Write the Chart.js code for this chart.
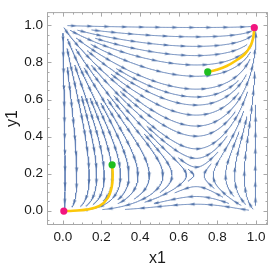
<!DOCTYPE html>
<html>
<head>
<meta charset="utf-8">
<script src="https://cdn.jsdelivr.net/npm/chart.js@4.4.1/dist/chart.umd.min.js"></script>
<style>
  html, body { margin: 0; padding: 0; background: #fff; }
  #wrap { width: 273px; height: 270px; }
</style>
</head>
<body>
<div id="wrap"><canvas id="chart"></canvas></div>
<script>
// axis ranges (the unit square plus Mathematica's padding)
const xRange = [-0.082, 1.062];
const yRange = [-0.077, 1.072];
const majorTicks = [0, 0.2, 0.4, 0.6, 0.8, 1.0];
const tickLabels = ['0.0', '0.2', '0.4', '0.6', '0.8', '1.0'];
const minorTicks = [-0.05, 0.05, 0.1, 0.15, 0.25, 0.3, 0.35, 0.45, 0.5, 0.55,
                    0.65, 0.7, 0.75, 0.85, 0.9, 0.95, 1.05];

// interior saddle of the field  x' = x(1-x)(y-ys),  y' = y(1-y)(x-xs)
const saddle = [0.69, 0.19];
const restPoints = [[0, 0], [1, 0], [0, 1], [1, 1], saddle];

// highlighted trajectories
const pathLow = [[0.255, 0.248], [0.258, 0.196], [0.253, 0.128], [0.232, 0.068],
                 [0.19, 0.026], [0.121, 0.006], [0.053, 0.0], [0.005, -0.002]];
const pathHigh = [[0.750, 0.749], [0.796, 0.761], [0.848, 0.781], [0.899, 0.812],
                  [0.942, 0.846], [0.971, 0.889], [0.985, 0.932], [0.991, 0.988]];
const startPts = [[0.255, 0.248], [0.750, 0.749]];
const endPts = [[0.005, -0.002], [0.991, 0.988]];

function velocity(x, y) {
    return [x * (1 - x) * (y - saddle[1]), y * (1 - y) * (x - saddle[0])];
}

// evenly spaced streamlines (Jobard-Lefer style)
const D_SEP = 0.038, D_TEST = 0.019, STEP = 0.004;
const grid = new Map();

function addPoint(p) {
    const k = Math.floor(p[0] / D_SEP) * 1000 + Math.floor(p[1] / D_SEP);
    if (!grid.has(k)) grid.set(k, []);
    grid.get(k).push(p);
}

function isClear(p, d) {
    const i = Math.floor(p[0] / D_SEP), j = Math.floor(p[1] / D_SEP);
    for (let a = i - 1; a <= i + 1; a++) {
        for (let b = j - 1; b <= j + 1; b++) {
            const c = grid.get(a * 1000 + b);
            if (!c) continue;
            for (const q of c) {
                if ((q[0] - p[0]) ** 2 + (q[1] - p[1]) ** 2 < d * d) return false;
            }
        }
    }
    return true;
}

function nearRest(p) {
    return restPoints.some(r => Math.hypot(r[0] - p[0], r[1] - p[1]) < 0.012);
}

function unitVel(p) {
    const v = velocity(p[0], p[1]);
    const m = Math.hypot(v[0], v[1]);
    return m < 1e-8 ? null : [v[0] / m, v[1] / m];
}

function inside(p) {
    return p[0] >= 0 && p[0] <= 1 && p[1] >= 0 && p[1] <= 1;
}

function trace(seed, dir) {
    const out = [];
    let p = seed;
    for (let n = 0; n < 1500; n++) {
        const v1 = unitVel(p);
        if (!v1) break;
        const mid = [p[0] + dir * STEP / 2 * v1[0], p[1] + dir * STEP / 2 * v1[1]];
        const v2 = unitVel(mid);
        if (!v2) break;
        const q = [p[0] + dir * STEP * v2[0], p[1] + dir * STEP * v2[1]];
        if (!inside(q) || nearRest(q) || !isClear(q, D_TEST)) break;
        out.push(q);
        p = q;
    }
    return out;
}

function makeLine(seed) {
    if (!inside(seed) || nearRest(seed) || !isClear(seed, D_SEP * 0.99)) return null;
    const back = trace(seed, -1).reverse();
    const fwd = trace(seed, 1);
    const pts = back.concat([seed], fwd);
    if (pts.length * STEP < 0.05) return null;
    pts.forEach(addPoint);
    return pts;
}

const lines = [];
const queue = [];
function tryAdd(seed) {
    const l = makeLine(seed);
    if (l) { lines.push(l); queue.push(l); }
}
function drain() {
    while (queue.length) {
        const l = queue.shift();
        for (let k = 0; k < l.length; k += 3) {
            const p = l[k], q = l[Math.min(k + 1, l.length - 1)], r = l[Math.max(k - 1, 0)];
            let tx = q[0] - r[0], ty = q[1] - r[1];
            const m = Math.hypot(tx, ty);
            if (!m) continue;
            tx /= m; ty /= m;
            tryAdd([p[0] - ty * D_SEP, p[1] + tx * D_SEP]);
            tryAdd([p[0] + ty * D_SEP, p[1] - tx * D_SEP]);
        }
    }
}
tryAdd([0.45, 0.55]);
drain();
for (let gx = 0.01; gx < 1; gx += D_SEP / 2) {
    for (let gy = 0.01; gy < 1; gy += D_SEP / 2) {
        tryAdd([gx, gy]);
        drain();
    }
}

// arrowheads along each line
const ARROW_GAP = 0.088, ARROW_FIRST = 0.03;
const arrowPts = [], arrowRot = [];
lines.forEach(l => {
    const len = (l.length - 1) * STEP;
    for (let s = ARROW_FIRST; s < len - 0.01; s += ARROW_GAP) {
        const p = l[Math.round(s / STEP)];
        const v = velocity(p[0], p[1]);
        arrowPts.push({ x: p[0], y: p[1] });
        arrowRot.push(Math.atan2(v[0], v[1]) * 180 / Math.PI);
    }
});

const arrowImg = document.createElement('canvas');
arrowImg.width = 8; arrowImg.height = 8;
const g = arrowImg.getContext('2d');
g.fillStyle = '#5575aa';
g.beginPath();
g.moveTo(4, 1.2); g.lineTo(5.5, 6.6); g.lineTo(2.5, 6.6);
g.closePath();
g.fill();

const toXY = arr => arr.map(p => ({ x: p[0], y: p[1] }));

const datasets = [];
datasets.push({ data: toXY(startPts), backgroundColor: '#1fbf1f', pointRadius: 3.6, borderWidth: 0, showLine: false, order: 0 });
datasets.push({ data: toXY(endPts), backgroundColor: '#f2157f', pointRadius: 3.6, borderWidth: 0, showLine: false, order: 0 });
[pathLow, pathHigh].forEach(path => {
    datasets.push({ data: toXY(path), showLine: true, borderColor: '#fcc80a', borderWidth: 2.6,
                    pointRadius: 0, tension: 0.4, order: 1 });
});
datasets.push({ data: arrowPts, showLine: false, pointStyle: arrowImg, pointRotation: arrowRot,
                pointRadius: 3, order: 2 });
lines.forEach(l => {
    datasets.push({ data: toXY(l), showLine: true, borderColor: '#6584b8', borderWidth: 1,
                    pointRadius: 0, tension: 0, order: 3 });
});

const framePlugin = {
    id: 'frame',
    afterDatasetsDraw(chart) {
        const { ctx, chartArea: a, scales: { x, y } } = chart;
        ctx.save();
        ctx.strokeStyle = '#a8a8a8';
        ctx.lineWidth = 1;
        ctx.strokeRect(a.left + 0.5, a.top + 0.5, a.right - a.left - 1, a.bottom - a.top - 1);
        ctx.beginPath();
        const tick = (vals, len) => vals.forEach(v => {
            const px = Math.round(x.getPixelForValue(v)) + 0.5;
            const py = Math.round(y.getPixelForValue(v)) + 0.5;
            ctx.moveTo(px, a.bottom); ctx.lineTo(px, a.bottom - len);
            ctx.moveTo(px, a.top); ctx.lineTo(px, a.top + len);
            ctx.moveTo(a.left, py); ctx.lineTo(a.left + len, py);
            ctx.moveTo(a.right, py); ctx.lineTo(a.right - len, py);
        });
        tick(majorTicks, 4.5);
        tick(minorTicks, 2.5);
        ctx.stroke();
        ctx.restore();
    }
};

const font = { family: "'Liberation Sans', Arial, sans-serif", size: 13.5 };
const titleFont = { family: "'Liberation Sans', Arial, sans-serif", size: 16 };

new Chart(document.getElementById('chart'), {
    type: 'scatter',
    data: { datasets },
    options: {
        responsive: true,
        maintainAspectRatio: false,
        animation: false,
        events: [],
        layout: { padding: { left: 0, right: 3, top: 1, bottom: 0 } },
        plugins: { legend: { display: false }, tooltip: { enabled: false } },
        scales: {
            x: {
                type: 'linear', min: xRange[0], max: xRange[1],
                afterBuildTicks: s => { s.ticks = majorTicks.map(v => ({ value: v })); },
                afterFit: s => { s.height = 45; },
                ticks: { callback: (v, i) => tickLabels[i], padding: 4, font, color: '#1a1a1a',
                         maxRotation: 0, autoSkip: false },
                grid: { display: false, drawTicks: false },
                border: { display: false },
                title: { display: true, text: 'x1', font: titleFont, color: '#1a1a1a',
                         padding: { top: 0, bottom: 2 } }
            },
            y: {
                type: 'linear', min: yRange[0], max: yRange[1],
                afterBuildTicks: s => { s.ticks = majorTicks.map(v => ({ value: v })); },
                afterFit: s => { s.width = 47; },
                ticks: { callback: (v, i) => tickLabels[i], padding: 4, font, color: '#1a1a1a',
                         autoSkip: false },
                grid: { display: false, drawTicks: false },
                border: { display: false },
                title: { display: true, text: 'y1', font: titleFont, color: '#1a1a1a',
                         padding: { top: 3, bottom: 0 } }
            }
        }
    },
    plugins: [framePlugin]
});
</script>
</body>
</html>
